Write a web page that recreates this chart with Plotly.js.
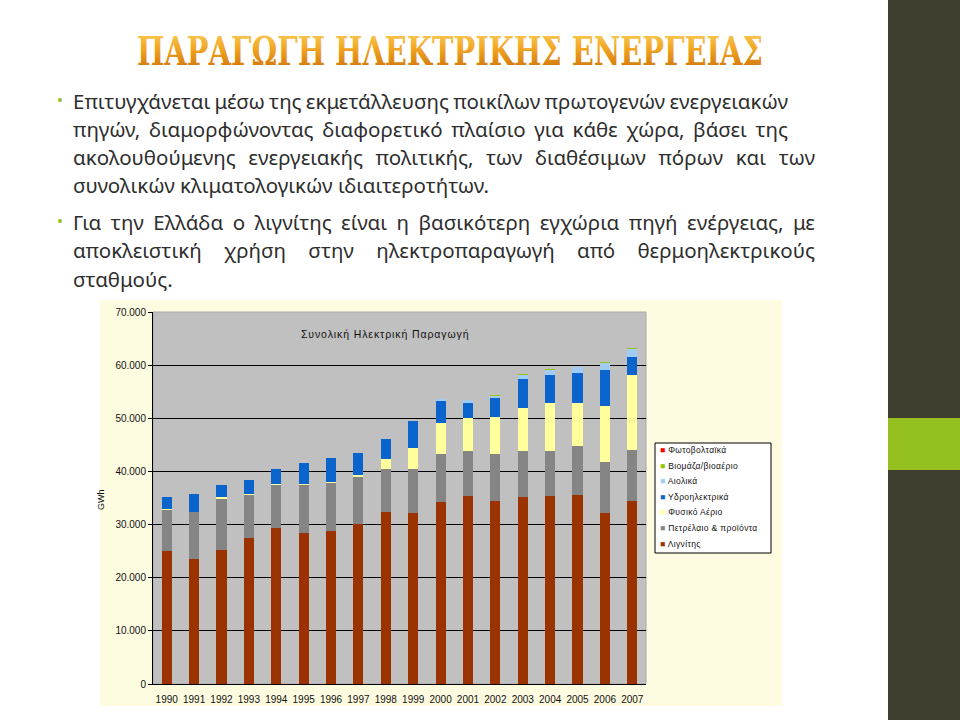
<!DOCTYPE html>
<html>
<head>
<meta charset="utf-8">
<script src="https://cdn.plot.ly/plotly-3.0.1.min.js"></script>
<style>html,body{margin:0;padding:0;background:#fff;}#chart{width:960px;height:720px;}</style>
</head>
<body>
<div id="chart"></div>
<script>
// ---- data (GWh) ----
const years = ['1990','1991','1992','1993','1994','1995','1996','1997','1998','1999','2000','2001','2002','2003','2004','2005','2006','2007'];
const lignite   = [25100,23500,25200,27500,29300,28400,28800,30200,32400,32200,34200,35400,34400,35100,35400,35600,32200,34400];
const petroleum = [7600,8900,9700,8100,8200,9100,9000,8800,8100,8300,9000,8400,8800,8700,8400,9100,9600,9700];
const naturalGas= [200,0,200,200,50,50,300,300,1800,4000,6000,6300,7000,8100,9100,8200,10600,14000];
const hydro     = [2200,3400,2300,2500,2950,3950,4500,4200,3800,4900,4100,2800,3700,5400,5200,5600,6600,3400];
const wind      = [0,0,0,0,0,0,20,40,60,100,300,500,300,900,900,1100,1400,1500];
const biomass   = [0,0,0,0,0,0,0,0,0,0,0,100,200,100,200,100,200,300];
const solar     = [0,0,0,0,0,0,0,0,0,0,0,0,0,0,0,0,0,10];

const seriesNames = ['Λιγνίτης','Πετρέλαιο & προϊόντα','Φυσικό Αέριο','Υδροηλεκτρικά','Αιολικά','Βιομάζα/βιοαέριο','Φωτοβολταϊκά'];
const seriesValues = [lignite, petroleum, naturalGas, hydro, wind, biomass, solar];
const seriesColors = ['#9b3300','#858585','#ffff9c','#0a64cc','#a0ccf5','#99c400','#ff0000'];

const chartTitle = 'Συνολική Ηλεκτρική Παραγωγή';
const yLabel = 'GWh';
const slideTitle = 'ΠΑΡΑΓΩΓΗ ΗΛΕΚΤΡΙΚΗΣ ΕΝΕΡΓΕΙΑΣ';
const bulletLines = [
  ['Επιτυγχάνεται μέσω της εκμετάλλευσης ποικίλων πρωτογενών ενεργειακών',
   'πηγών, διαμορφώνοντας διαφορετικό πλαίσιο για κάθε χώρα, βάσει της',
   'ακολουθούμενης ενεργειακής πολιτικής, των διαθέσιμων πόρων και των',
   'συνολικών κλιματολογικών ιδιαιτεροτήτων.'],
  ['Για την Ελλάδα ο λιγνίτης είναι η βασικότερη εγχώρια πηγή ενέργειας, με',
   'αποκλειστική χρήση στην ηλεκτροπαραγωγή από θερμοηλεκτρικούς',
   'σταθμούς.']
];

// ---- layout helpers ----
const W = 960, H = 720;
const px = v => v / W;
const py = v => 1 - v / H;

const traces = seriesNames.map((n, i) => ({
  type: 'bar', name: n, x: years, y: seriesValues[i],
  marker: {color: seriesColors[i], line: {width: 0}},
  hoverinfo: 'x+y+name'
}));

const annotations = [];
const shapes = [];
const fixes = []; // post-render text adjustments

// slide title
fixes.push({idx: annotations.length, kind:'title', center:450, width:626});
annotations.push({xref:'paper', yref:'paper', x: px(450), y: py(51), xanchor:'center', yanchor:'middle',
  text: '<b>' + slideTitle + '</b>', showarrow:false,
  font:{family:'DejaVu Serif Condensed, DejaVu Serif, serif', size:40, color:'#e5961a'}});

// bullet text
const lineYs = [[101,129,157,185],[222,250,279]];
const lineWidths = [[715,715,742,0],[742,742,0]];
bulletLines.forEach((lines, b) => {
  annotations.push({xref:'paper', yref:'paper', x: px(60), y: py(lineYs[b][0]-1), xanchor:'center', yanchor:'middle',
    text:'•', showarrow:false, font:{family:'Noto Sans', size:16, color:'#94c11f'}});
  lines.forEach((t, j) => {
    fixes.push({idx: annotations.length, kind:'line', left:73, width: lineWidths[b][j]});
    annotations.push({xref:'paper', yref:'paper', x: px(73), y: py(lineYs[b][j]), xanchor:'left', yanchor:'middle',
      text: t, showarrow:false, font:{family:'Noto Sans, sans-serif', size:20.5, color:'#2e2e2e'}});
  });
});

// chart title inside plot
fixes.push({idx: annotations.length, kind:'spaced', spacing:0.9});
annotations.push({xref:'paper', yref:'paper', x: px(385), y: py(334), xanchor:'center', yanchor:'middle',
  text: chartTitle, showarrow:false, font:{family:'Liberation Sans, Arial, sans-serif', size:10.5, color:'#111'}});

// y axis title
annotations.push({xref:'paper', yref:'paper', x: px(101), y: py(500), xanchor:'center', yanchor:'middle',
  text: yLabel, textangle:-90, showarrow:false, font:{family:'Liberation Sans, Arial, sans-serif', size:9, color:'#111'}});

// manual legend (top item first)
const legX0 = 655, legX1 = 771, legY0 = 443, legY1 = 553;
shapes.push({type:'rect', xref:'paper', yref:'paper', x0:px(legX0), x1:px(legX1), y0:py(legY1), y1:py(legY0),
  fillcolor:'#ffffff', line:{color:'#000', width:1}, layer:'above'});
for (let k = 0; k < seriesNames.length; k++) {
  const idx = seriesNames.length - 1 - k;
  fixes.push({idx: annotations.length, kind:'spaced', spacing:0.35});
  annotations.push({xref:'paper', yref:'paper', x: px(legX0 + 3), y: py(legY0 + 7 + k*15.6), xanchor:'left', yanchor:'middle',
    text: '<span style="color:' + seriesColors[idx] + '">■</span> ' + seriesNames[idx], showarrow:false,
    font:{family:'Liberation Sans, Arial, sans-serif', size:8.5, color:'#111'}});
}

// chart background (cream), plot area (gray) and right decorative bar
shapes.push({type:'rect', xref:'paper', yref:'paper', x0:px(100), x1:px(782), y0:py(706), y1:py(300),
  fillcolor:'#fdfbe0', line:{width:0}, layer:'below'});
shapes.push({type:'rect', xref:'paper', yref:'paper', x0:px(153), x1:px(646), y0:py(684), y1:py(312),
  fillcolor:'#c0c0c0', line:{color:'#a8a8a8', width:1}, layer:'below'});
shapes.push({type:'rect', xref:'paper', yref:'paper', x0:px(888), x1:1, y0:0, y1:1,
  fillcolor:'#3f3d2e', line:{width:0}, layer:'above'});
shapes.push({type:'rect', xref:'paper', yref:'paper', x0:px(888), x1:1, y0:py(470), y1:py(418),
  fillcolor:'#94c11f', line:{width:0}, layer:'above'});

const layout = {
  width: W, height: H,
  margin: {l:0, r:0, t:0, b:0},
  paper_bgcolor: '#ffffff',
  plot_bgcolor: '#c0c0c0',
  separators: ',.',
  barmode: 'stack',
  bargap: 0.63,
  showlegend: false,
  xaxis: {domain:[px(153), px(646)], type:'category', showgrid:false, showline:true, linecolor:'#000', linewidth:1,
    ticks:'', ticklabelstandoff:6, tickfont:{family:'Liberation Sans, Arial, sans-serif', size:10, color:'#111'}, fixedrange:true},
  yaxis: {domain:[py(684), py(312)], range:[0,70000], dtick:10000, tickformat:',.0f',
    showgrid:true, gridcolor:'#000', gridwidth:1, zeroline:true, zerolinecolor:'#000',
    showline:true, linecolor:'#000', linewidth:1, ticks:'outside', ticklen:4, tickcolor:'#000',
    tickfont:{family:'Liberation Sans, Arial, sans-serif', size:10, color:'#111'}, fixedrange:true},
  annotations: annotations,
  shapes: shapes
};

function textOf(i) {
  const g = document.querySelector('.annotation[data-index="' + i + '"]');
  return g ? g.querySelector('text.annotation-text') : null;
}
function shiftX(el, dx) {
  const t = el.getAttribute('transform') || '';
  el.setAttribute('transform', (t + ' translate(' + dx + ',0)').trim());
}

Plotly.newPlot('chart', traces, layout, {displayModeBar:false, staticPlot:true}).then(() => {
  const svg = document.querySelector('#chart svg.main-svg');
  // gradient for slide title
  const NS = 'http://www.w3.org/2000/svg';
  let defs = svg.querySelector('defs');
  if (!defs) { defs = document.createElementNS(NS, 'defs'); svg.insertBefore(defs, svg.firstChild); }
  const grad = document.createElementNS(NS, 'linearGradient');
  grad.setAttribute('id', 'titleGrad'); grad.setAttribute('x1','0'); grad.setAttribute('y1','0');
  grad.setAttribute('x2','0'); grad.setAttribute('y2','1');
  [['0','#fbd768'],['0.45','#f2a623'],['1','#c76a05']].forEach(([o,c]) => {
    const s = document.createElementNS(NS, 'stop'); s.setAttribute('offset', o); s.setAttribute('stop-color', c); grad.appendChild(s);
  });
  defs.appendChild(grad);

  fixes.forEach(f => {
    const el = textOf(f.idx);
    if (!el) return;
    if (f.kind === 'title') {
      el.setAttribute('textLength', f.width);
      el.setAttribute('lengthAdjust', 'spacingAndGlyphs');
      el.style.fill = 'url(#titleGrad)';
      const r = el.getBoundingClientRect();
      shiftX(el, f.center - (r.left + r.width / 2));
    } else if (f.kind === 'line') {
      let r = el.getBoundingClientRect();
      if (f.width > 0) {
        const spaces = (el.textContent.match(/ /g) || []).length;
        if (spaces > 0) el.style.wordSpacing = ((f.width - r.width) / spaces) + 'px';
        r = el.getBoundingClientRect();
      }
      shiftX(el, f.left - r.left);
    } else if (f.kind === 'spaced') {
      const r0 = el.getBoundingClientRect();
      el.style.letterSpacing = f.spacing + 'px';
      const r = el.getBoundingClientRect();
      // keep anchor: legend items left, title center
      if (f.spacing > 0.5) shiftX(el, (r0.left + r0.width/2) - (r.left + r.width/2));
      else shiftX(el, r0.left - r.left);
    }
  });
});
</script>
</body>
</html>
